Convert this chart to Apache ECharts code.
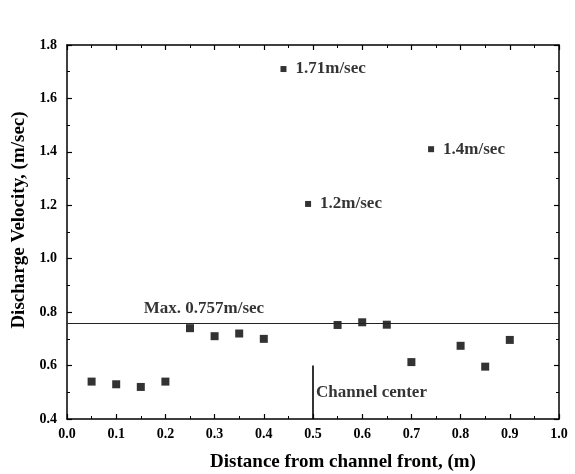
<!DOCTYPE html>
<html>
<head>
<meta charset="utf-8">
<script src="https://cdn.jsdelivr.net/npm/echarts@6/dist/echarts.min.js"></script>
<style>
  html, body { margin: 0; padding: 0; background: #fff; }
  #main { width: 575px; height: 474px; }
</style>
</head>
<body>
<div id="main"></div>
<script>
// measured points along the channel
var distances = [0.05, 0.1, 0.15, 0.2, 0.25, 0.3, 0.35, 0.4, 0.55, 0.6, 0.65, 0.7, 0.8, 0.85, 0.9];
var velocities = [0.54, 0.53, 0.52, 0.54, 0.74, 0.71, 0.72, 0.70, 0.752, 0.762, 0.753, 0.613, 0.674, 0.596, 0.696];

// peak values with their labels
var peakX = [0.44, 0.74, 0.49];
var peakY = [1.71, 1.41, 1.205];
var peakLabels = ['1.71m/sec', '1.4m/sec', '1.2m/sec'];

var maxVelocity = 0.757;
var centerX = 0.5;
var centerLine = [0.4, 0.6];

var font = 'Liberation Serif';

var peakData = peakX.map(function (x, i) {
    return { value: [x, peakY[i]], name: peakLabels[i] };
});

var myChart = echarts.init(document.getElementById('main'));

var axisCommon = {
    type: 'value',
    axisLine: { show: true, onZero: false, lineStyle: { color: '#000', width: 1.5 } },
    axisTick: { show: true, inside: true, length: 5, lineStyle: { color: '#000', width: 1.2 } },
    minorTick: { show: true, splitNumber: 2, length: 3, lineStyle: { color: '#000', width: 1 } },
    splitLine: { show: false },
    minorSplitLine: { show: false }
};

var option = {
    animation: false,
    grid: { left: 67, top: 45, right: 16, bottom: 55, containLabel: false, outerBoundsMode: 'none' },
    xAxis: [
        Object.assign({}, axisCommon, {
            min: 0, max: 1, interval: 0.1,
            position: 'bottom',
            name: 'Distance from channel front, (m)',
            nameLocation: 'middle',
            nameGap: 34,
            nameTextStyle: { fontFamily: font, fontWeight: 'bold', fontSize: 19, color: '#000', padding: [0, 0, 0, 60] },
            axisLabel: {
                margin: 8, color: '#000', fontFamily: font, fontWeight: 'bold', fontSize: 14,
                formatter: function (v) { return v.toFixed(1); }
            }
        }),
        Object.assign({}, axisCommon, {
            min: 0, max: 1, interval: 0.1,
            position: 'top',
            axisLabel: { show: false }
        })
    ],
    yAxis: [
        Object.assign({}, axisCommon, {
            min: 0.4, max: 1.8, interval: 0.2,
            position: 'left',
            name: 'Discharge Velocity, (m/sec)',
            nameLocation: 'middle',
            nameGap: 37,
            nameTextStyle: { fontFamily: font, fontWeight: 'bold', fontSize: 19, color: '#000', padding: [0, 0, 0, 24] },
            axisLabel: {
                margin: 10, color: '#000', fontFamily: font, fontWeight: 'bold', fontSize: 14,
                formatter: function (v) { return v.toFixed(1); }
            }
        }),
        Object.assign({}, axisCommon, {
            min: 0.4, max: 1.8, interval: 0.2,
            position: 'right',
            axisLabel: { show: false }
        })
    ],
    series: [
        {
            name: 'velocity',
            type: 'scatter',
            symbol: 'rect',
            symbolSize: 8,
            itemStyle: { color: '#000' },
            data: distances.map(function (x, i) { return [x, velocities[i]]; }),
            markLine: {
                silent: true,
                symbol: 'none',
                label: { show: false },
                lineStyle: { color: '#222', width: 1.2, type: 'solid' },
                data: [
                    { yAxis: maxVelocity },
                    [{ coord: [centerX, centerLine[0]], lineStyle: { color: '#000', width: 1.6 } },
                     { coord: [centerX, centerLine[1]] }]
                ]
            }
        },
        {
            name: 'peaks',
            type: 'scatter',
            symbol: 'rect',
            symbolSize: 6,
            itemStyle: { color: '#000' },
            data: peakData,
            label: {
                show: true, position: 'right', distance: 9,
                formatter: '{b}', color: '#000',
                fontFamily: font, fontWeight: 'bold', fontSize: 17
            }
        },
        {
            name: 'notes',
            type: 'scatter',
            symbolSize: 0,
            silent: true,
            data: [
                { value: [0.156, maxVelocity], name: 'Max. 0.757m/sec', label: { offset: [0, -15] } },
                { value: [centerX, 0.498], name: 'Channel center', label: { distance: 3 } }
            ],
            label: {
                show: true, position: 'right', distance: 0,
                formatter: '{b}', color: '#000',
                fontFamily: font, fontWeight: 'bold', fontSize: 17
            }
        }
    ]
};

myChart.setOption(option);
</script>
</body>
</html>
